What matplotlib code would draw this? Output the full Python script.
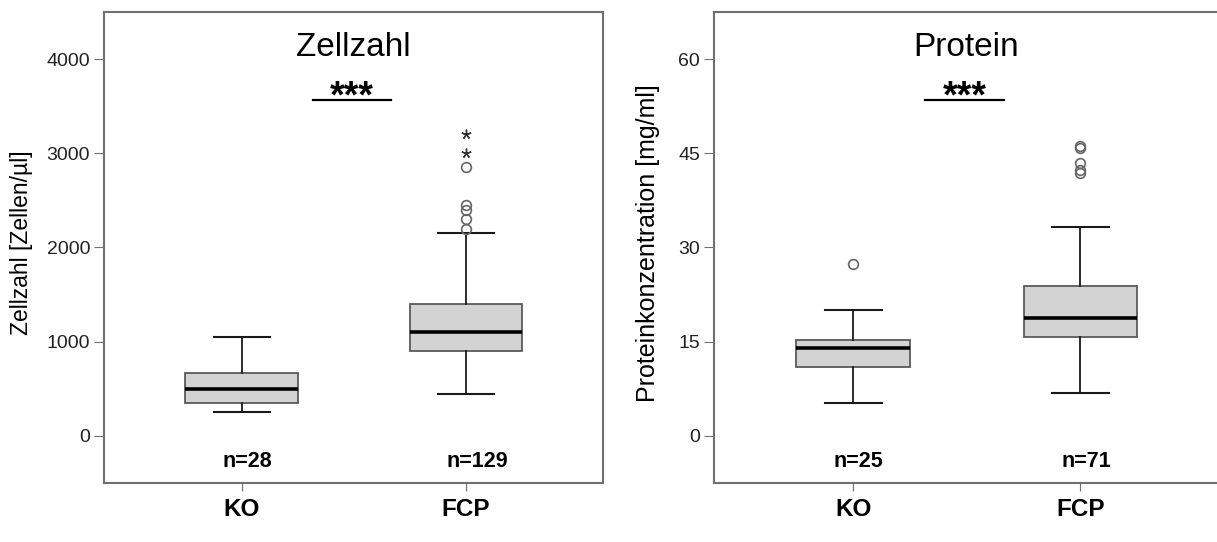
import numpy as np
import matplotlib.pyplot as plt

plt.rcParams['font.family'] = ['Liberation Sans', 'DejaVu Sans']

# Gruppen
groups = ['KO', 'FCP']

# Zellzahl [Zellen/µl]: whislo, q1, med, q3, whishi
zell_ko = [250, 350, 500, 670, 1050]
zell_fcp = [450, 900, 1100, 1400, 2150]
zell_ko_out = []
zell_fcp_out = [2200, 2300, 2400, 2450, 2850]
zell_fcp_extreme = [3000, 3200]
zell_n = [28, 129]

# Proteinkonzentration [mg/ml]
prot_ko = [5.3, 10.9, 14.0, 15.2, 20.0]
prot_fcp = [6.9, 15.7, 18.7, 23.8, 33.3]
prot_ko_out = [27.4]
prot_fcp_out = [41.9, 42.3, 43.5, 45.8, 46.2]
prot_fcp_extreme = []
prot_n = [25, 71]

FRAME = '#707070'


def stats(v, label):
    return dict(whislo=v[0], q1=v[1], med=v[2], q3=v[3], whishi=v[4],
                fliers=[], label=label)


def panel(ax, boxes, outs, extremes, ns, title, ylabel, ylim, yticks,
          sig_y, ylab_x, ylab_size):
    bx = [stats(b, g) for b, g in zip(boxes, groups)]
    ax.bxp(bx, positions=[1, 2], widths=0.5, capwidths=0.25,
           showfliers=False, patch_artist=True,
           boxprops=dict(facecolor='#d3d3d3', edgecolor='#5a5a5a', linewidth=1.3),
           medianprops=dict(color='black', linewidth=2.6),
           whiskerprops=dict(color='#1a1a1a', linewidth=1.3),
           capprops=dict(color='#1a1a1a', linewidth=1.5))
    for i, (o, e) in enumerate(zip(outs, extremes)):
        if o:
            ax.plot([i + 1] * len(o), o, 'o', ms=7, mfc='none',
                    mec='#666666', mew=1.2)
        if e:
            # extreme values as thin asterisks
            ax.plot([i + 1] * len(e), e, marker=(5, 2, 0), ls='none', ms=7,
                    color='#333333', mew=1.0)

    ax.set_xlim(0.387, 2.61)
    ax.set_ylim(*ylim)
    ax.set_yticks(yticks)
    ax.set_xticks([1, 2])
    ax.set_xticklabels(groups, fontsize=17.5, fontweight='bold')
    ax.tick_params(axis='y', labelsize=14, length=7, color=FRAME,
                   labelcolor='#222222', pad=3)
    ax.tick_params(axis='x', length=6, color=FRAME, pad=5)
    for s in ax.spines.values():
        s.set_color(FRAME)
        s.set_linewidth(1.5)

    ax.set_ylabel(ylabel, fontsize=ylab_size)
    ax.yaxis.set_label_coords(ylab_x, 0.51)

    ax.text(0.5, 0.907, title, transform=ax.transAxes, ha='center',
            va='baseline', fontsize=24)
    ax.plot([1.316, 1.665], [sig_y, sig_y], color='black', lw=1.6)
    ax.text(1.49, 0.797, '***', transform=ax.get_xaxis_transform(),
            ha='center', va='baseline', fontsize=27, fontweight='bold')

    for i, n in enumerate(ns):
        ax.text(i + 1 - 0.085, 0.046, f'n={n}', transform=ax.get_xaxis_transform(),
                ha='left', va='center', fontsize=15.5, fontweight='bold')


fig = plt.figure(figsize=(12.17, 5.42), dpi=100)
ax1 = fig.add_axes([104 / 1217, 1 - 483 / 542, 499 / 1217, 471 / 542])
ax2 = fig.add_axes([714 / 1217, 1 - 483 / 542, 505 / 1217, 471 / 542])

panel(ax1, [zell_ko, zell_fcp], [zell_ko_out, zell_fcp_out],
      [[], zell_fcp_extreme], zell_n, 'Zellzahl', 'Zellzahl [Zellen/µl]',
      (-500, 4500), [0, 1000, 2000, 3000, 4000], 3570, -0.142, 16.5)
panel(ax2, [prot_ko, prot_fcp], [prot_ko_out, prot_fcp_out],
      [[], prot_fcp_extreme], prot_n, 'Protein', 'Proteinkonzentration [mg/ml]',
      (-7.5, 67.5), [0, 15, 30, 45, 60], 53.5, -0.107, 18)

fig.savefig('out.png', dpi=100)
